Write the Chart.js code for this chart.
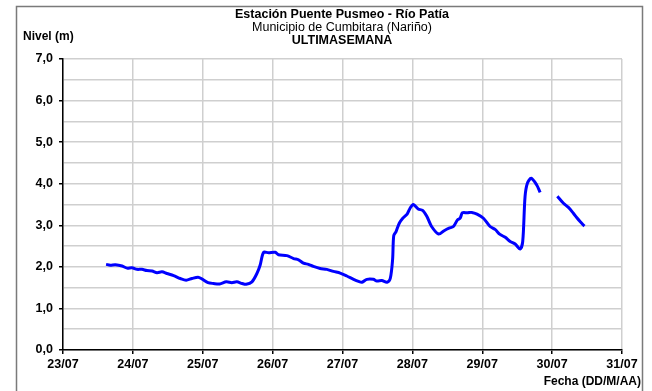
<!DOCTYPE html>
<html>
<head>
<meta charset="utf-8">
<script src="https://cdn.jsdelivr.net/npm/chart.js@4"></script>
<style>
  body { margin: 0; background: #fff; }
  canvas { display: block; }
</style>
</head>
<body>
<canvas id="nivelChart" width="652" height="391"></canvas>
<script>
// Fechas del eje X (una por día)
const fechas = ['23/07', '24/07', '25/07', '26/07', '27/07', '28/07', '29/07', '30/07', '31/07'];

// Horas desde el 23/07 00:00 y nivel del río (m); null = sin dato
const horas = [
  14.8, 16.2, 18.0, 20.3, 22.0, 23.7, 25.4, 27.1, 28.8, 30.6,
  32.3, 34.0, 35.7, 38.0, 40.3, 42.3, 44.3, 46.4, 47.7, 49.8,
  51.7, 53.8, 56.1, 58.0, 59.7, 61.5, 62.9, 64.9, 66.6, 67.7,
  68.9, 70.6, 72.9, 74.0, 76.9, 79.2, 80.9, 82.6, 84.3, 86.0,
  88.3, 90.6, 92.9, 95.2, 97.5, 99.8, 101.5, 102.7, 104.4, 106.6,
  107.8, 109.5, 111.3, 112.4, 113.2, 113.6, 114.4, 115.5, 116.7, 118.2,
  119.2, 120.3, 122.0, 123.5, 125.0, 126.6, 129.0, 130.9, 132.6, 134.1,
  135.5, 136.4, 137.2, 138.9, 140.4, 142.2, 144.4, 146.7, 148.4, 150.1,
  151.9, 153.6, 155.3, 157.0, 157.9, 158.7, 159.5, 160.8, 162.7, 163.9,
  166.5,
  169.8, 171.9, 173.6, 175.3, 176.5, 177.6, 179.1
];
const nivel = [
  2.06, 2.04, 2.05, 2.02, 1.97, 1.98, 1.94, 1.94, 1.91, 1.90,
  1.86, 1.88, 1.84, 1.79, 1.72, 1.68, 1.72, 1.75, 1.71, 1.62,
  1.60, 1.59, 1.64, 1.62, 1.64, 1.60, 1.58, 1.64, 1.84, 2.04,
  2.35, 2.34, 2.35, 2.29, 2.27, 2.20, 2.17, 2.09, 2.06, 2.01,
  1.96, 1.94, 1.89, 1.85, 1.78, 1.70, 1.65, 1.63, 1.70, 1.70,
  1.66, 1.67, 1.63, 1.72, 2.17, 2.75, 2.85, 3.05, 3.17, 3.27,
  3.41, 3.50, 3.39, 3.36, 3.21, 2.97, 2.79, 2.87, 2.93, 2.97,
  3.13, 3.17, 3.30, 3.30, 3.31, 3.27, 3.17, 2.97, 2.90, 2.78,
  2.71, 2.61, 2.55, 2.43, 2.61, 3.69, 4.01, 4.13, 3.97, 3.79,
  null,
  3.70, 3.53, 3.43, 3.29, 3.18, 3.09, 2.98
];

const puntos = horas.map((h, i) => ({ x: h, y: nivel[i] }));

const fuente = 'Liberation Sans, Arial, sans-serif';

// Marco, títulos y rótulos de ejes
const textos = {
  id: 'textos',
  afterDraw(chart) {
    const c = chart.ctx;
    c.save();
    c.strokeStyle = '#7a7a7a';
    c.lineWidth = 1.5;
    c.beginPath();
    c.moveTo(16.5, 391);
    c.lineTo(16.5, 6.5);
    c.lineTo(642.5, 6.5);
    c.lineTo(642.5, 391);
    c.stroke();

    c.fillStyle = '#000';
    c.textBaseline = 'middle';
    c.textAlign = 'center';
    c.font = 'bold 12.5px ' + fuente;
    c.fillText('Estación Puente Pusmeo - Río Patía', 342, 15);
    c.font = '12.5px ' + fuente;
    c.fillText('Municipio de Cumbitara (Nariño)', 342, 28);
    c.font = 'bold 12.5px ' + fuente;
    c.fillText('ULTIMASEMANA', 342, 41);

    c.font = 'bold 12px ' + fuente;
    c.textAlign = 'left';
    c.fillText('Nivel (m)', 23, 37);
    c.textAlign = 'right';
    c.fillText('Fecha (DD/M/AA)', 641, 382);
    c.restore();
  }
};

new Chart(document.getElementById('nivelChart'), {
  type: 'line',
  data: {
    datasets: [{
      label: 'Nivel',
      data: puntos,
      borderColor: '#0000ff',
      borderWidth: 3,
      pointRadius: 0,
      tension: 0.3,
      spanGaps: false
    }]
  },
  options: {
    responsive: false,
    animation: false,
    layout: { padding: { left: 0, right: 30, top: 59, bottom: 0 } },
    plugins: {
      legend: { display: false },
      title: { display: false },
      tooltip: { enabled: false }
    },
    scales: {
      x: {
        type: 'linear',
        min: 0,
        max: 192,
        afterFit(s) { s.height = 41; },
        ticks: {
          stepSize: 24,
          padding: 3,
          color: '#000',
          font: { family: fuente, size: 12.5, weight: 'bold' },
          callback: v => fechas[v / 24]
        },
        grid: { color: '#cfcfcf', lineWidth: 1.5, tickColor: '#000', tickLength: 4 },
        border: { color: '#000', width: 1.5 }
      },
      y: {
        min: 0,
        max: 7,
        afterFit(s) { s.width = 63; },
        ticks: {
          stepSize: 0.5,
          padding: 6,
          color: '#000',
          font: { family: fuente, size: 12.5, weight: 'bold' },
          callback: v => Number.isInteger(v) ? v.toFixed(1).replace('.', ',') : ''
        },
        grid: {
          color: '#cfcfcf',
          lineWidth: 1.5,
          tickLength: 4,
          tickColor: c => Number.isInteger(c.tick.value) ? '#000' : 'rgba(0,0,0,0)'
        },
        border: { color: '#000', width: 1.5 }
      }
    }
  },
  plugins: [textos]
});
</script>
</body>
</html>
